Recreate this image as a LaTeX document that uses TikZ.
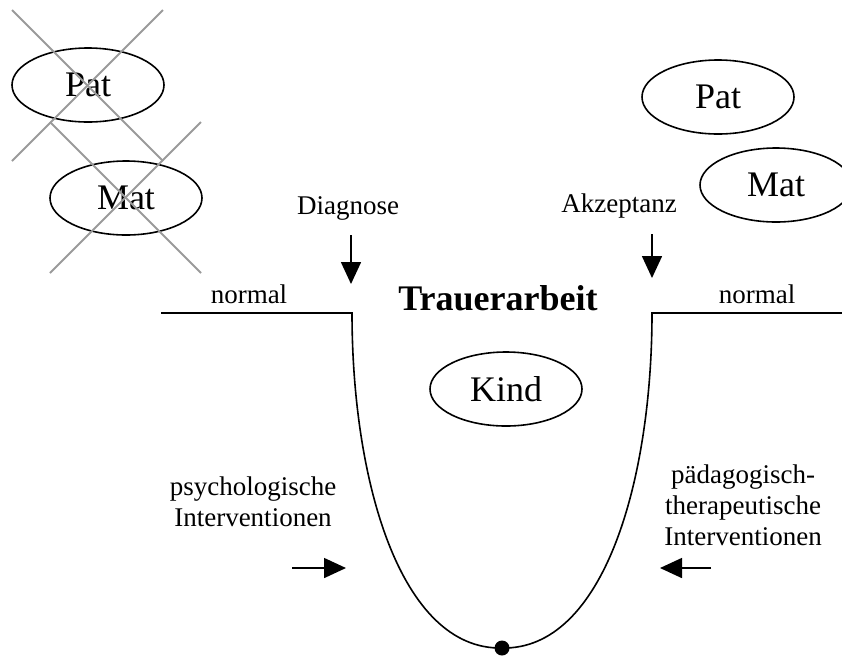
\documentclass[tikz,border=0pt]{standalone}
\usepackage{fontspec}
\setmainfont{Liberation Serif}
\usetikzlibrary{arrows.meta,positioning,shapes.geometric}
\definecolor{ink}{HTML}{000000}
\definecolor{crossgray}{HTML}{9A9A9A}
\tikzset{
  person/.style={ellipse,draw=ink,line width=1.6pt,minimum width=152pt,minimum height=74pt,inner sep=0pt,font=\fontsize{36}{40}\selectfont},
  note/.style={font=\fontsize{27}{31}\selectfont,align=center,inner sep=0pt},
  heading/.style={font=\fontsize{36}{40}\selectfont\bfseries,inner sep=0pt},
  track/.style={draw=ink,line width=1.6pt},
  flow/.style={-{Triangle[length=22pt,width=20pt]},line width=1.6pt,draw=ink},
  strike/.style={draw=crossgray,line width=1.8pt}
}
\begin{document}
\begin{tikzpicture}[x=1pt,y=-1pt]
\useasboundingbox (0,0) rectangle (842,657);
\node[person] (patL) at (88,85) {Pat};
\node[person] (matL) at (126,198) {Mat};
\node[person] (patR) at (718,97) {Pat};
\node[person] (matR) at (776,185) {Mat};
\node[person] (kind) at (506,389) {Kind};

\node[note] (diagnose) at (348,208) {Diagnose};
\node[note] (akzeptanz) at (619,206) {Akzeptanz};
\node[note] (normalL) at (249,294) {normal};
\node[note] (normalR) at (757,294) {normal};
\node[heading] (trauer) at (498,298) {Trauerarbeit};
\node[note] (psych) at (253,502) {psychologische\\Interventionen};
\node[note] (paed) at (743,505) {pädagogisch-\\therapeutische\\Interventionen};

\coordinate (lEnd) at (161,313);
\coordinate (lCorner) at (352,313);
\coordinate (rCorner) at (652,313);
\coordinate (rEnd) at (842,313);
\coordinate (bottom) at (502,648);
\draw[track] (lEnd) -- (lCorner) .. controls (352,480) and (400,650) .. (bottom)
  .. controls (604,650) and (652,480) .. (rCorner) -- (rEnd);
\fill[ink] (bottom) circle (7.5pt);

\coordinate (diagFrom) at (351,235);
\coordinate (diagTo) at (351,284);
\coordinate (akzFrom) at (652,234);
\coordinate (akzTo) at (652,278);
\coordinate (psyFrom) at (292,568);
\coordinate (psyTo) at (346,568);
\coordinate (paedFrom) at (711,568);
\coordinate (paedTo) at (660,568);
\draw[flow] (diagFrom) -- (diagTo);
\draw[flow] (akzFrom) -- (akzTo);
\draw[flow] (psyFrom) -- (psyTo);
\draw[flow] (paedFrom) -- (paedTo);

\foreach \x/\y in {12/10,50/122}{
  \draw[strike] (\x,\y) -- ++(151,151);
  \draw[strike] (\x+151,\y) -- ++(-151,151);
}
\end{tikzpicture}
\end{document}
